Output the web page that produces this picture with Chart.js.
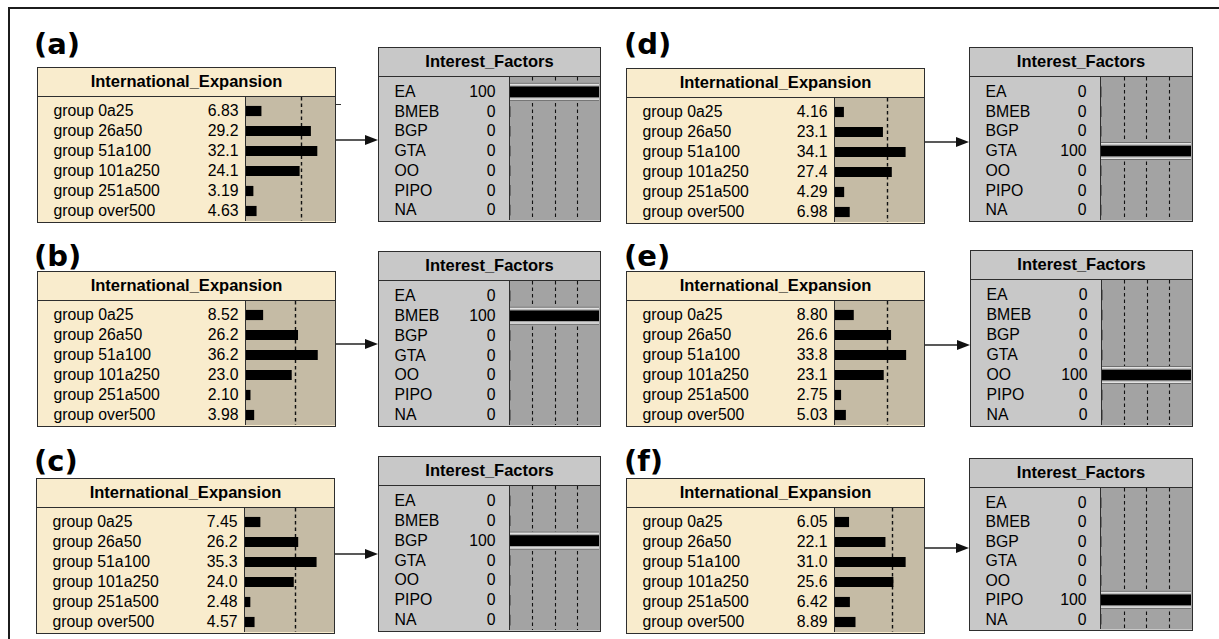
<!DOCTYPE html>
<html>
<head>
<meta charset="utf-8">
<script src="https://cdn.jsdelivr.net/npm/chart.js@4.4.0/dist/chart.umd.min.js"></script>
<style>
  body { margin: 0; width: 1219px; height: 639px; overflow: hidden; position: relative; background: #fff;
         font-family: "Liberation Sans", Arial, sans-serif; color: #000; }
  .frame { position: absolute; left: 8px; top: 7px; width: 1230px; height: 650px;
           border-left: 2px solid #1c1c1c; border-top: 2px solid #1c1c1c; }
  .tag { position: absolute; font: bold 29px "DejaVu Sans", Verdana, sans-serif; line-height: 29px; white-space: nowrap; }
  .box { position: absolute; box-sizing: border-box; border: 1.5px solid #2e2e2e; }
  .box .title { height: 27.5px; line-height: 27.5px; border-bottom: 1.5px solid #2e2e2e; text-align: center;
                font-weight: bold; font-size: 16.5px; white-space: nowrap; }
  .box .body { position: absolute; left: 0; right: 0; }
  .row { position: absolute; left: 0; right: 0; font-size: 15.8px; white-space: nowrap; }
  .row span { position: absolute; top: 0; }
  .area { position: absolute; top: 0; bottom: 0; right: 0; border-left: 1.5px solid #2e2e2e; }
  .area canvas { position: absolute; left: 0; top: 0; }
  .ie { background: #f9eccd; }
  .ie .area { background: #c5bba5; }
  .fa { background: #c8c8c8; }
  .fa .area { background: #a3a3a3; }
  svg { position: absolute; left: 0; top: 0; }
</style>
</head>
<body>
<div class="frame"></div>
<svg id="arrows" width="1219" height="639"></svg>
<script>
const panelTags = ['(a)', '(b)', '(c)', '(d)', '(e)', '(f)'];
const expansionGroups = ['group 0a25', 'group 26a50', 'group 51a100', 'group 101a250', 'group 251a500', 'group over500'];
const factorStates = ['EA', 'BMEB', 'BGP', 'GTA', 'OO', 'PIPO', 'NA'];

const expansionA = [6.83, 29.2, 32.1, 24.1, 3.19, 4.63];
const expansionB = [8.52, 26.2, 36.2, 23.0, 2.10, 3.98];
const expansionC = [7.45, 26.2, 35.3, 24.0, 2.48, 4.57];
const expansionD = [4.16, 23.1, 34.1, 27.4, 4.29, 6.98];
const expansionE = [8.80, 26.6, 33.8, 23.1, 2.75, 5.03];
const expansionF = [6.05, 22.1, 31.0, 25.6, 6.42, 8.89];

const factorsA = [100, 0, 0, 0, 0, 0, 0];
const factorsB = [0, 100, 0, 0, 0, 0, 0];
const factorsC = [0, 0, 100, 0, 0, 0, 0];
const factorsD = [0, 0, 0, 100, 0, 0, 0];
const factorsE = [0, 0, 0, 0, 100, 0, 0];
const factorsF = [0, 0, 0, 0, 0, 100, 0];

// each expansion box has its own bar scale in the figure
const expansionAxisMax = [39.8, 44.6, 43.6, 42.7, 42, 38.8];
const expansionTicks = [25];
const factorTicks = [25, 50, 75];

const expansionSeries = [expansionA, expansionB, expansionC, expansionD, expansionE, expansionF];
const factorSeries = [factorsA, factorsB, factorsC, factorsD, factorsE, factorsF];

// positions of the pieces: [left, top, width, height]
const layout = [
  { tag: [34, 30],  ie: [37, 67, 299, 156],  fa: [378, 47, 223, 175],  arrow: 140 },
  { tag: [34, 242], ie: [37, 271, 299, 156], fa: [378, 251, 223, 176], arrow: 344 },
  { tag: [34, 447], ie: [36, 478, 299, 156], fa: [378, 456, 223, 176], arrow: 554 },
  { tag: [624, 30], ie: [626, 68, 299, 156], fa: [969, 47, 224, 175],  arrow: 142 },
  { tag: [624, 242], ie: [626, 271, 299, 156], fa: [970, 250, 223, 177], arrow: 345 },
  { tag: [624, 447], ie: [626, 478, 299, 156], fa: [969, 458, 224, 173], arrow: 548 }
];

const boxSpec = {
  ie: { title: 'International_Expansion', labelX: 15.5, valueR: 199.5, split: 207, padTop: 4, bar: 9.5, bg: '#c5bba5', dashW: 1.4 },
  fa: { title: 'Interest_Factors', labelX: 15.5, valueR: 115.5, split: 130, padTop: 5, bar: 10, bg: '#a3a3a3', dashW: 1.1 }
};

const dashGrid = {
  id: 'dashGrid',
  beforeDatasetsDraw(chart, args, opts) {
    const ctx = chart.ctx;
    const x = chart.scales.x;
    const y = chart.scales.y;
    ctx.save();
    ctx.strokeStyle = '#111';
    ctx.lineWidth = opts.width;
    ctx.setLineDash([3.5, 3]);
    opts.ticks.forEach(t => {
      const px = Math.round(x.getPixelForValue(t)) + 0.5;
      ctx.beginPath();
      ctx.moveTo(px, 0);
      ctx.lineTo(px, chart.height);
      ctx.stroke();
    });
    ctx.setLineDash([]);
    if (opts.band) {
      chart.data.datasets[0].data.forEach((v, i) => {
        if (v < 100) return;
        const cy = y.getPixelForValue(i);
        ctx.fillStyle = opts.bg;
        ctx.fillRect(0, cy - 9, chart.width, 18);
        ctx.fillStyle = '#6f6f6f';
        ctx.fillRect(0, cy - 9, chart.width, 1);
        ctx.fillRect(0, cy + 8, chart.width, 1);
        ctx.fillStyle = '#e2e2e2';
        ctx.fillRect(0, cy - 8, chart.width, 1.5);
        ctx.fillRect(0, cy + 6.5, chart.width, 1.5);
      });
    }
    ctx.restore();
  }
};

function fmt(kind, v) {
  if (kind === 'fa') return String(v);
  return v >= 10 ? v.toFixed(1) : v.toFixed(2);
}

function buildBox(kind, rect, cats, vals, ticks, xMax) {
  const spec = boxSpec[kind];
  const [x, y, w, h] = rect;
  const box = document.createElement('div');
  box.className = 'box ' + kind;
  Object.assign(box.style, { left: x + 'px', top: y + 'px', width: w + 'px', height: h + 'px' });
  const title = document.createElement('div');
  title.className = 'title';
  title.textContent = spec.title;
  box.appendChild(title);

  const innerW = w - 3;
  const bodyH = h - 3 - 29;
  const pitch = (bodyH - spec.padTop) / cats.length;
  const body = document.createElement('div');
  body.className = 'body';
  Object.assign(body.style, { top: '29px', height: bodyH + 'px' });
  cats.forEach((c, i) => {
    const row = document.createElement('div');
    row.className = 'row';
    Object.assign(row.style, { top: (spec.padTop + i * pitch) + 'px', height: pitch + 'px', lineHeight: pitch + 'px' });
    const lab = document.createElement('span');
    lab.textContent = c;
    lab.style.left = spec.labelX + 'px';
    const val = document.createElement('span');
    val.textContent = fmt(kind, vals[i]);
    val.style.right = (innerW - spec.valueR) + 'px';
    row.appendChild(lab);
    row.appendChild(val);
    body.appendChild(row);
  });
  const area = document.createElement('div');
  area.className = 'area';
  area.style.left = spec.split + 'px';
  const canvas = document.createElement('canvas');
  canvas.width = Math.round(innerW - spec.split - 1.5);
  canvas.height = Math.round(bodyH);
  area.appendChild(canvas);
  body.appendChild(area);
  box.appendChild(body);
  document.body.appendChild(box);

  new Chart(canvas, {
    type: 'bar',
    data: {
      labels: cats,
      datasets: [{ data: vals, backgroundColor: '#000', borderWidth: 0, barThickness: spec.bar }]
    },
    options: {
      indexAxis: 'y',
      responsive: false,
      animation: false,
      events: [],
      layout: { padding: { top: spec.padTop, bottom: 0, left: 0, right: 0 } },
      scales: {
        x: { type: 'linear', min: 0, max: xMax, display: false },
        y: { type: 'category', display: false, offset: true }
      },
      plugins: {
        legend: { display: false },
        tooltip: { enabled: false },
        dashGrid: { ticks: ticks, band: kind === 'fa', bg: spec.bg, width: spec.dashW }
      }
    },
    plugins: [dashGrid]
  });
}

const svg = document.getElementById('arrows');
function svgEl(name, attrs) {
  const el = document.createElementNS('http://www.w3.org/2000/svg', name);
  Object.entries(attrs).forEach(([k, v]) => el.setAttribute(k, v));
  svg.appendChild(el);
}

layout.forEach((p, i) => {
  const tag = document.createElement('div');
  tag.className = 'tag';
  tag.textContent = panelTags[i];
  Object.assign(tag.style, { left: p.tag[0] + 'px', top: p.tag[1] + 'px' });
  document.body.appendChild(tag);

  buildBox('ie', p.ie, expansionGroups, expansionSeries[i], expansionTicks, expansionAxisMax[i]);
  buildBox('fa', p.fa, factorStates, factorSeries[i], factorTicks, 100);

  const x0 = p.ie[0] + p.ie[2];
  const x1 = p.fa[0];
  svgEl('line', { x1: x0, y1: p.arrow, x2: x1 - 10, y2: p.arrow, stroke: '#222', 'stroke-width': 1.5 });
  svgEl('polygon', { points: `${x1},${p.arrow} ${x1 - 13},${p.arrow - 5} ${x1 - 13},${p.arrow + 5}`, fill: '#111' });
});

// small stray tick beside box (a)
svgEl('line', { x1: 336, y1: 104.5, x2: 341, y2: 104.5, stroke: '#333', 'stroke-width': 1 });
</script>
</body>
</html>
